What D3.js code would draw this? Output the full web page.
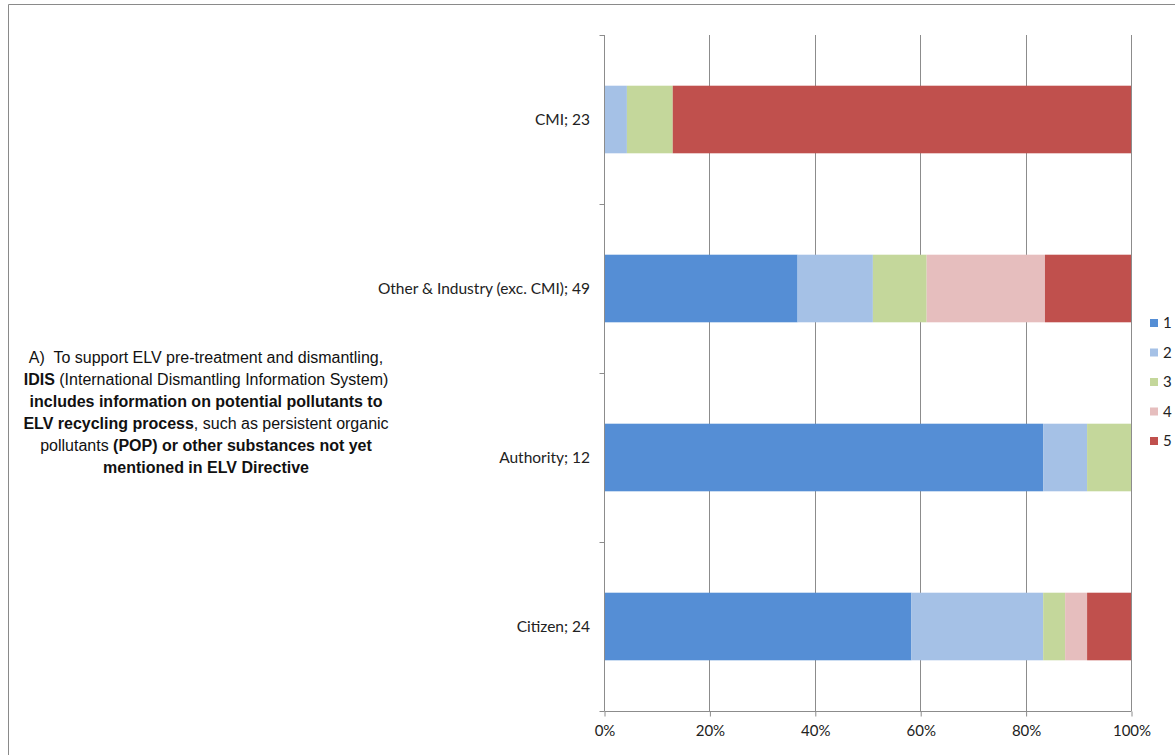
<!DOCTYPE html>
<html>
<head>
<meta charset="utf-8">
<script src="https://cdn.jsdelivr.net/npm/d3@7"></script>
<style>
  body { margin: 0; background: #fff; }
  svg { display: block; }
</style>
</head>
<body>
<div id="chart"></div>
<script>
const width = 1175;
const height = 755;

// categories top to bottom
const categories = ['CMI; 23', 'Other & Industry (exc. CMI); 49', 'Authority; 12', 'Citizen; 24'];
const seriesKeys = ['1', '2', '3', '4', '5'];
// counts per answer (1..5) for each category
const answers1 = [0, 18, 10, 14];
const answers2 = [1, 7, 1, 6];
const answers3 = [2, 5, 1, 1];
const answers4 = [0, 11, 0, 1];
const answers5 = [20, 8, 0, 2];
const xTicks = [0, 0.2, 0.4, 0.6, 0.8, 1];
const colors = ['#558ED5', '#A5C1E6', '#C4D79B', '#E6BEBE', '#C0504D'];

const rows = categories.map((c, i) => {
    const vals = [answers1[i], answers2[i], answers3[i], answers4[i], answers5[i]];
    const total = d3.sum(vals);
    const row = { cat: c };
    seriesKeys.forEach((k, j) => row[k] = vals[j] / total);
    return row;
});

const margin = { top: 35, left: 604, right: 1131, bottom: 711 };
const labelFont = 'Lato, "Open Sans", sans-serif';

const svg = d3.select('#chart')
    .append('svg')
    .attr('width', width)
    .attr('height', height);

// outer frame (runs off the picture at right and bottom)
svg.append('path')
    .attr('d', `M${width + 5},4.5 H8.5 V${height + 5}`)
    .attr('fill', 'none')
    .attr('stroke', '#8a8a8a')
    .attr('stroke-width', 1);

const xScale = d3.scaleLinear().domain([0, 1]).range([margin.left, margin.right]);
const yScale = d3.scaleBand().domain(categories).range([margin.top, margin.bottom]).paddingInner(0.6).paddingOuter(0.3);
const bandAll = d3.scaleBand().domain(categories).range([margin.top, margin.bottom]);

// gridlines
svg.append('g')
    .selectAll('line')
    .data(xTicks.slice(1))
    .join('line')
    .attr('x1', d => Math.round(xScale(d)) + 0.5)
    .attr('x2', d => Math.round(xScale(d)) + 0.5)
    .attr('y1', margin.top)
    .attr('y2', margin.bottom)
    .attr('stroke', '#8c8c8c');

// stacked bars
const stacked = d3.stack().keys(seriesKeys)(rows);
svg.append('g')
    .selectAll('g')
    .data(stacked)
    .join('g')
    .attr('fill', (d, i) => colors[i])
    .selectAll('rect')
    .data(d => d)
    .join('rect')
    .attr('x', d => xScale(d[0]))
    .attr('width', d => xScale(d[1]) - xScale(d[0]))
    .attr('y', d => yScale(d.data.cat))
    .attr('height', yScale.bandwidth());

// x axis
const xAxis = d3.axisBottom(xScale)
    .tickValues(xTicks)
    .tickFormat(d3.format('.0%'))
    .tickSize(5)
    .tickPadding(9);
const gx = svg.append('g')
    .attr('transform', `translate(0.5, ${margin.bottom + 0.5})`)
    .call(xAxis);
gx.select('.domain').attr('stroke', '#8c8c8c').attr('d', `M${margin.left},0H${margin.right}`);
gx.selectAll('.tick line').attr('stroke', '#8c8c8c');
gx.selectAll('text')
    .attr('font-family', labelFont)
    .attr('font-size', 15)
    .attr('fill', '#222');

// y axis: ticks at band boundaries
const gy = svg.append('g').attr('transform', `translate(${margin.left + 0.5}, 0)`);
gy.append('line')
    .attr('y1', margin.top).attr('y2', margin.bottom)
    .attr('stroke', '#8c8c8c');
const boundaries = categories.map(c => bandAll(c)).concat([margin.bottom]);
gy.selectAll('.yt')
    .data(boundaries)
    .join('line')
    .attr('class', 'yt')
    .attr('x1', -5).attr('x2', 0)
    .attr('y1', d => Math.round(d) + 0.5).attr('y2', d => Math.round(d) + 0.5)
    .attr('stroke', '#8c8c8c');
svg.append('g')
    .selectAll('text')
    .data(categories)
    .join('text')
    .attr('x', 590)
    .attr('y', d => bandAll(d) + bandAll.bandwidth() / 2)
    .attr('dy', '0.35em')
    .attr('text-anchor', 'end')
    .attr('font-family', labelFont)
    .attr('font-size', 15.5)
    .attr('fill', '#222')
    .text(d => d);

// legend
const legend = svg.append('g').attr('transform', 'translate(1150, 323)');
const li = legend.selectAll('g')
    .data(seriesKeys)
    .join('g')
    .attr('transform', (d, i) => `translate(0, ${i * 29.5})`);
li.append('rect')
    .attr('x', 0).attr('y', -4)
    .attr('width', 8).attr('height', 8)
    .attr('fill', (d, i) => colors[i]);
li.append('text')
    .attr('x', 13)
    .attr('dy', '0.35em')
    .attr('font-family', labelFont)
    .attr('font-size', 15)
    .attr('fill', '#222')
    .text(d => d);

// side note text
const noteLines = [
    [['A)\u00a0 To support ELV pre-treatment and dismantling,', false]],
    [['IDIS', true], [' (International Dismantling Information System)', false]],
    [['includes information on potential pollutants to', true]],
    [['ELV recycling process', true], [', such as persistent organic', false]],
    [['pollutants ', false], ['(POP) or other substances not yet', true]],
    [['mentioned in ELV Directive', true]]
];
const note = svg.append('text')
    .attr('font-family', '"Liberation Sans", Arial, sans-serif')
    .attr('font-size', 16)
    .attr('fill', '#111')
    .attr('text-anchor', 'middle');
noteLines.forEach((line, i) => {
    const t = note.append('tspan').attr('x', 206).attr('y', 363 + i * 22);
    line.forEach(([s, b]) => {
        t.append('tspan').attr('font-weight', b ? 'bold' : 'normal').text(s);
    });
});
</script>
</body>
</html>
